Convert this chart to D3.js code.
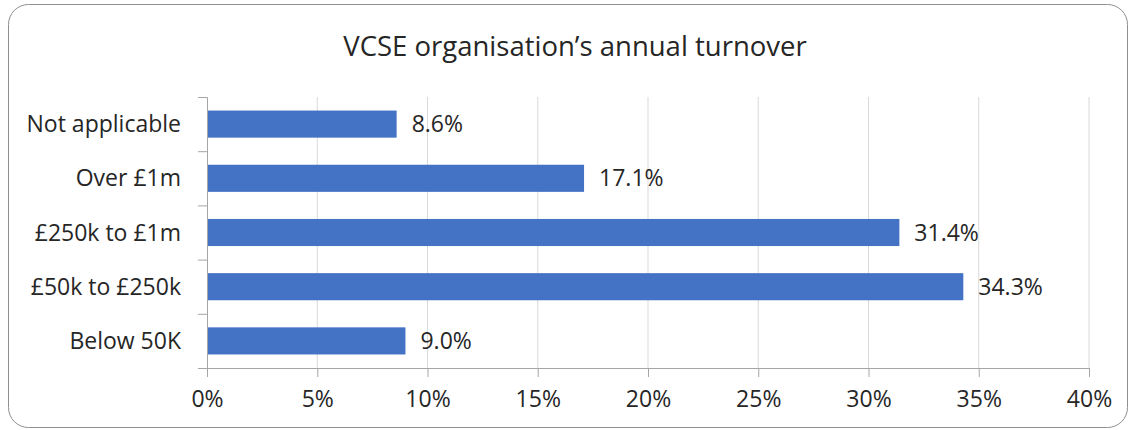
<!DOCTYPE html>
<html>
<head>
<meta charset="utf-8">
<script src="https://cdn.jsdelivr.net/npm/d3@7"></script>
<style>
  body { margin: 0; background: #fff; }
  text { font-family: "Open Sans", "Noto Sans", sans-serif; fill: #262626; }
</style>
</head>
<body>
<div id="chart"></div>
<script>
var categories = ["Not applicable", "Over £1m", "£250k to £1m", "£50k to £250k", "Below 50K"];
var values = [8.6, 17.1, 31.4, 34.3, 9.0];
var xTicks = [0, 5, 10, 15, 20, 25, 30, 35, 40];
var title = "VCSE organisation\u2019s annual turnover";

var W = 1133, H = 430;
var margin = { top: 97, right: 44, bottom: 62, left: 207 };
var width = W - margin.left - margin.right;
var height = H - margin.top - margin.bottom;

var svg = d3.select("#chart")
    .append("svg")
    .attr("width", W)
    .attr("height", H);

// outer frame
svg.append("rect")
    .attr("x", 8.5).attr("y", 4.5)
    .attr("width", 1119).attr("height", 423)
    .attr("rx", 20).attr("ry", 20)
    .attr("fill", "#fff")
    .attr("stroke", "#8f8f8f")
    .attr("stroke-width", 1);

svg.append("text")
    .attr("x", 575).attr("y", 56)
    .attr("text-anchor", "middle")
    .style("font-size", "27.5px")
    .text(title);

var g = svg.append("g")
    .attr("transform", "translate(" + margin.left + "," + margin.top + ")");

var x = d3.scaleLinear().domain([0, 40]).range([0, width]);
var y = d3.scaleBand().domain(categories).range([0, height]).paddingInner(0.5).paddingOuter(0.25);
var yEdge = d3.scaleLinear().domain([0, categories.length]).range([0, height]);

// gridlines
g.append("g")
    .selectAll("line")
    .data(xTicks.slice(1))
    .enter()
    .append("line")
    .attr("x1", d => x(d)).attr("x2", d => x(d))
    .attr("y1", 0).attr("y2", height)
    .attr("stroke", "#d9d9d9");

// bars
g.append("g")
    .selectAll("rect")
    .data(values)
    .enter()
    .append("rect")
    .attr("x", 0)
    .attr("y", (d, i) => y(categories[i]))
    .attr("width", d => x(d))
    .attr("height", y.bandwidth())
    .attr("fill", "#4472c4");

// value labels
g.append("g")
    .selectAll("text")
    .data(values)
    .enter()
    .append("text")
    .attr("x", d => x(d) + 15)
    .attr("y", (d, i) => y(categories[i]) + y.bandwidth() / 2)
    .attr("dy", "0.35em")
    .style("font-size", "23px")
    .text(d => d.toFixed(1) + "%");

// x axis
var xAxis = g.append("g")
    .attr("transform", "translate(0," + height + ")")
    .call(d3.axisBottom(x).tickValues(xTicks).tickSize(9).tickPadding(14).tickFormat(d => d + "%"));
xAxis.select(".domain").attr("stroke", "#a6a6a6");
xAxis.selectAll(".tick line").attr("stroke", "#a6a6a6");
xAxis.selectAll("text").style("font-size", "23px").attr("fill", "#262626");

// y axis: ticks at band edges
var yAxis = g.append("g")
    .call(d3.axisLeft(yEdge).ticks(categories.length).tickSize(9).tickFormat(""));
yAxis.select(".domain").attr("stroke", "#a6a6a6");
yAxis.selectAll(".tick line").attr("stroke", "#a6a6a6");

// category labels
g.append("g")
    .selectAll("text")
    .data(categories)
    .enter()
    .append("text")
    .attr("x", -26)
    .attr("y", d => y(d) + y.bandwidth() / 2)
    .attr("dy", "0.35em")
    .attr("text-anchor", "end")
    .style("font-size", "23px")
    .text(d => d);
</script>
</body>
</html>
